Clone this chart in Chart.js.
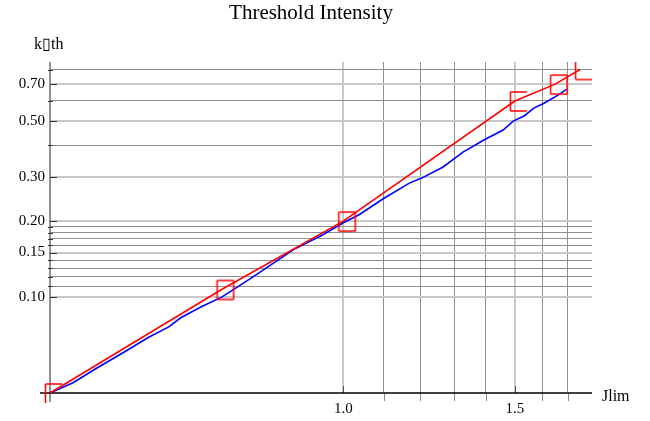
<!DOCTYPE html>
<html>
<head>
<meta charset="utf-8">
<title>Threshold Intensity</title>
<script src="https://cdn.jsdelivr.net/npm/chart.js@4.4.0/dist/chart.umd.min.js"></script>
<style>
html, body { margin: 0; padding: 0; background: #fff; }
#wrap { width: 650px; height: 421px; }
</style>
</head>
<body>
<div id="wrap"><canvas id="thresholdChart" width="650" height="421"></canvas></div>
<script>
// red curve with markers
const jlimRed = [0.5, 0.75, 1.0, 1.5, 1.65, 1.75];
const kthRed = [0.0415, 0.107, 0.2, 0.6, 0.70, 0.80];

// blue curve
const jlimBlue = [0.5, 0.528, 0.557, 0.599, 0.630, 0.662, 0.681, 0.715, 0.751, 0.805, 0.828, 0.889, 0.952, 1.0,
                  1.038, 1.102, 1.169, 1.205, 1.266, 1.327, 1.394, 1.459, 1.494, 1.533, 1.569, 1.607, 1.661, 1.696];
const kthBlue = [0.0415, 0.0456, 0.0518, 0.0611, 0.0688, 0.0760, 0.0826, 0.0913, 0.100, 0.119, 0.128, 0.154, 0.176, 0.197,
                 0.212, 0.247, 0.283, 0.297, 0.328, 0.376, 0.420, 0.460, 0.499, 0.523, 0.562, 0.588, 0.633, 0.669];

// ticks and grid
const yTickLabels = [0.1, 0.15, 0.2, 0.3, 0.5, 0.7];
const xTickLabels = [1.0, 1.5];
const yGrid = [0.1, 0.11, 0.12, 0.13, 0.14, 0.15, 0.16, 0.17, 0.18, 0.19, 0.2, 0.3, 0.4, 0.5, 0.6, 0.7, 0.8];
const xGrid = [1.0, 1.1, 1.2, 1.3, 1.4, 1.5, 1.6, 1.7];

const FONT = "'Liberation Serif', 'Times New Roman', serif";

function isLabel(list, v) {
    return list.some(t => Math.abs(t - v) < 1e-6);
}

// open box marker, drawn offset from the data point like the original glyph
function makeMarker(edges) {
    const c = document.createElement("canvas");
    c.width = 28;
    c.height = 24;
    const g = c.getContext("2d");
    g.strokeStyle = "#ff0000";
    g.lineWidth = 1.5;
    const l = 9.5, r = 26, t = 3, b = 22;
    g.beginPath();
    if (edges.includes("t")) { g.moveTo(l, t); g.lineTo(r, t); }
    if (edges.includes("l")) { g.moveTo(l, t); g.lineTo(l, b); }
    if (edges.includes("b")) { g.moveTo(l, b); g.lineTo(r, b); }
    if (edges.includes("r")) { g.moveTo(r, t); g.lineTo(r, b); }
    g.stroke();
    return c;
}
const markerStyles = [makeMarker("tl"), makeMarker("tlbr"), makeMarker("tlbr"),
                      makeMarker("tlb"), makeMarker("tlbr"), makeMarker("lb")];

// axes, tick marks and text labels
const framePlugin = {
    id: "frame",
    beforeDatasetsDraw(chart) {
        const ctx = chart.ctx;
        const a = chart.chartArea;
        const xs = chart.scales.x, ys = chart.scales.y;
        ctx.save();
        // y axis
        ctx.strokeStyle = "#6e6e6e";
        ctx.lineWidth = 1.5;
        ctx.beginPath();
        ctx.moveTo(a.left, a.top);
        ctx.lineTo(a.left, a.bottom + 9);
        ctx.stroke();
        ctx.lineWidth = 1;
        ctx.strokeStyle = "#333";
        yGrid.forEach(v => {
            const py = Math.round(ys.getPixelForValue(v)) + 0.5;
            ctx.beginPath();
            if (isLabel(yTickLabels, v)) {
                ctx.moveTo(a.left, py); ctx.lineTo(a.left + 7, py);
            } else {
                ctx.moveTo(a.left - 2, py); ctx.lineTo(a.left + 3, py);
            }
            ctx.stroke();
        });
        xGrid.forEach(v => {
            const px = Math.round(xs.getPixelForValue(v)) + 0.5;
            ctx.beginPath();
            if (isLabel(xTickLabels, v)) {
                ctx.strokeStyle = "#555";
                ctx.moveTo(px, a.bottom - 7); ctx.lineTo(px, a.bottom);
            } else {
                ctx.strokeStyle = "#8a8a8a";
                ctx.moveTo(px, a.bottom); ctx.lineTo(px, a.bottom + 8);
            }
            ctx.stroke();
        });
        // x axis
        ctx.strokeStyle = "#000";
        ctx.lineWidth = 1.5;
        ctx.beginPath();
        ctx.moveTo(a.left - 10, a.bottom);
        ctx.lineTo(a.right, a.bottom);
        ctx.stroke();
        ctx.restore();
    },
    afterDraw(chart) {
        const ctx = chart.ctx;
        ctx.save();
        ctx.fillStyle = "#000";
        ctx.textBaseline = "alphabetic";
        ctx.font = "21px " + FONT;
        ctx.textAlign = "center";
        ctx.fillText("Threshold Intensity", 311, 19);
        ctx.font = "16px " + FONT;
        ctx.textAlign = "left";
        ctx.fillText("k\u25AFth", 34, 49);
        ctx.fillText("Jlim", 602, 401);
        ctx.restore();
    }
};

const ctx = document.getElementById("thresholdChart").getContext("2d");

new Chart(ctx, {
    type: "line",
    data: {
        datasets: [
            {
                label: "red",
                data: jlimRed.map((x, i) => ({ x: x, y: kthRed[i] })),
                borderColor: "#ff0000",
                borderWidth: 1.6,
                pointStyle: markerStyles,
                pointRadius: 1,
                pointHoverRadius: 1,
                tension: 0,
                clip: { left: 14, top: 0, right: 0, bottom: 14 }
            },
            {
                label: "blue",
                data: jlimBlue.map((x, i) => ({ x: x, y: kthBlue[i] })),
                borderColor: "#0000ff",
                borderWidth: 1.6,
                pointRadius: 0,
                tension: 0,
                clip: 0
            }
        ]
    },
    options: {
        responsive: false,
        devicePixelRatio: 1,
        animation: false,
        events: [],
        layout: { padding: { top: 62, right: 58, bottom: 0, left: 0 } },
        plugins: {
            legend: { display: false },
            title: { display: false },
            tooltip: { enabled: false }
        },
        scales: {
            x: {
                type: "logarithmic",
                min: 0.5,
                max: 1.8,
                afterBuildTicks: scale => { scale.ticks = xGrid.map(v => ({ value: v })); },
                afterFit: scale => { scale.height = 28; },
                border: { display: false },
                grid: {
                    drawTicks: false,
                    color: c => isLabel(xTickLabels, c.tick.value) ? "#c8c8c8" : "#8f8f8f",
                    lineWidth: c => isLabel(xTickLabels, c.tick.value) ? 2 : 1
                },
                ticks: {
                    autoSkip: false,
                    maxRotation: 0,
                    padding: 7,
                    color: "#000",
                    font: { family: FONT, size: 15 },
                    callback: v => isLabel(xTickLabels, v) ? Number(v).toFixed(1) : ""
                }
            },
            y: {
                type: "logarithmic",
                min: 0.0415,
                max: 0.857,
                afterBuildTicks: scale => { scale.ticks = yGrid.map(v => ({ value: v })); },
                afterFit: scale => { scale.width = 50; },
                border: { display: false },
                grid: {
                    drawTicks: false,
                    color: c => isLabel(yTickLabels, c.tick.value) ? "#c8c8c8" : "#8f8f8f",
                    lineWidth: c => isLabel(yTickLabels, c.tick.value) ? 2 : 1
                },
                ticks: {
                    autoSkip: false,
                    padding: 5,
                    color: "#000",
                    font: { family: FONT, size: 15 },
                    callback: v => isLabel(yTickLabels, v) ? Number(v).toFixed(2) : ""
                }
            }
        }
    },
    plugins: [framePlugin]
});
</script>
</body>
</html>
